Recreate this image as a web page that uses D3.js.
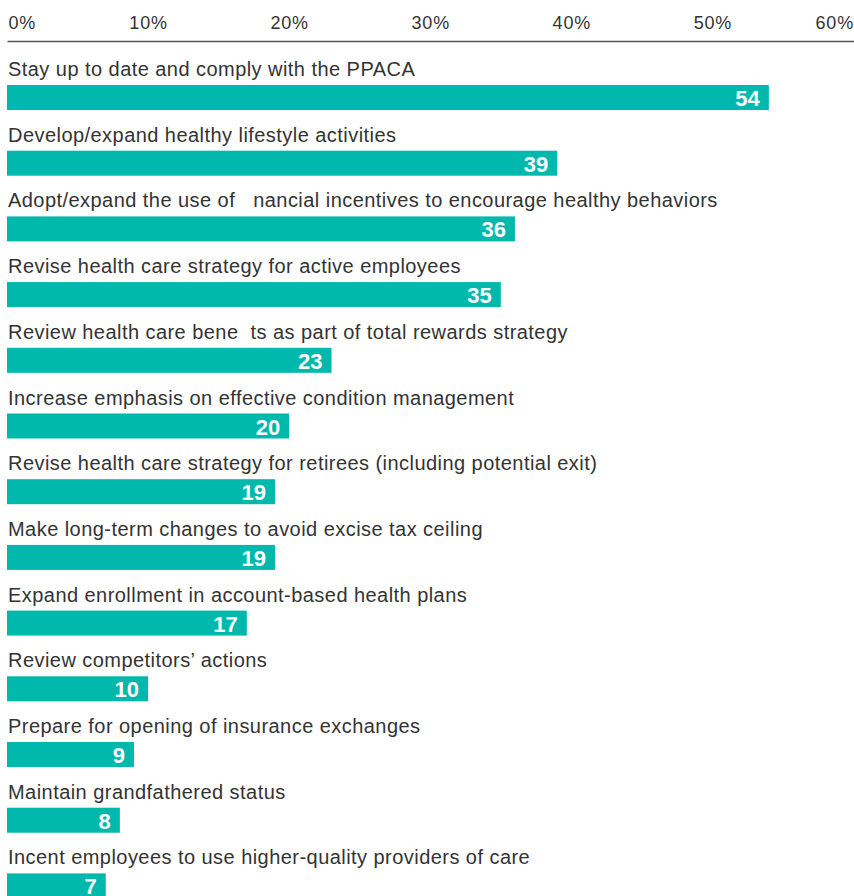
<!DOCTYPE html>
<html>
<head>
<meta charset="utf-8">
<script src="https://cdn.jsdelivr.net/npm/d3@7"></script>
<style>
  html, body { margin: 0; padding: 0; background: #fff; }
  svg { display: block; }
</style>
</head>
<body>
<svg id="chart" width="854" height="896"></svg>
<script>
// Share of employers citing each priority (%)
const categories = [
  "Stay up to date and comply with the PPACA",
  "Develop/expand healthy lifestyle activities",
  "Adopt/expand the use of \u00a0 nancial incentives to encourage healthy behaviors",
  "Revise health care strategy for active employees",
  "Review health care bene \u00a0ts as part of total rewards strategy",
  "Increase emphasis on effective condition management",
  "Revise health care strategy for retirees (including potential exit)",
  "Make long-term changes to avoid excise tax ceiling",
  "Expand enrollment in account-based health plans",
  "Review competitors\u2019 actions",
  "Prepare for opening of insurance exchanges",
  "Maintain grandfathered status",
  "Incent employees to use higher-quality providers of care"
];
const values = [54, 39, 36, 35, 23, 20, 19, 19, 17, 10, 9, 8, 7];
const tickValues = [0, 10, 20, 30, 40, 50, 60];

const svg = d3.select("#chart");
const barColor = "#00b8ab";
const textColor = "#333333";
const labelFont = "'Liberation Sans', Arial, sans-serif";

const x = d3.scaleLinear().domain([0, 60]).range([7, 853.5]);

const step = 65.7, barH = 25, firstTop = 85;
const y = d3.scaleBand()
  .domain(categories)
  .range([firstTop, firstTop + step * (categories.length - 1) + barH])
  .paddingInner(1 - barH / step)
  .paddingOuter(0);

// Top axis: labels above a single rule
const axis = d3.axisTop(x)
  .tickValues(tickValues)
  .tickSize(0)
  .tickPadding(0)
  .tickFormat(d => d + "%");

const axisG = svg.append("g")
  .attr("transform", "translate(0,41)")
  .call(axis);

axisG.select(".domain")
  .attr("stroke", "#555")
  .attr("stroke-width", 1.5);

axisG.selectAll(".tick text")
  .attr("fill", textColor)
  .attr("font-family", labelFont)
  .attr("font-size", 18)
  .attr("letter-spacing", 0.8)
  .attr("dy", 0)
  .attr("y", -12)
  .attr("text-anchor", d => d === 0 ? "start" : d === 60 ? "end" : "middle")
  .attr("dx", d => d === 0 ? 1 : 0);

const rows = svg.append("g")
  .selectAll("g")
  .data(categories.map((c, i) => ({ c, v: values[i] })))
  .join("g");

rows.append("text")
  .attr("x", 8)
  .attr("y", d => y(d.c) - 9)
  .attr("fill", textColor)
  .attr("font-family", labelFont)
  .attr("font-size", 20)
  .attr("letter-spacing", 0.45)
  .style("white-space", "pre")
  .text(d => d.c);

rows.append("rect")
  .attr("x", x(0))
  .attr("y", d => y(d.c))
  .attr("width", d => x(d.v) - x(0))
  .attr("height", y.bandwidth())
  .attr("fill", barColor);

rows.append("text")
  .attr("x", d => x(d.v) - 9)
  .attr("y", d => y(d.c) + 21)
  .attr("text-anchor", "end")
  .attr("fill", "#fff")
  .attr("font-family", labelFont)
  .attr("font-weight", 700)
  .attr("font-size", 22)
  .text(d => d.v);
</script>
</body>
</html>
